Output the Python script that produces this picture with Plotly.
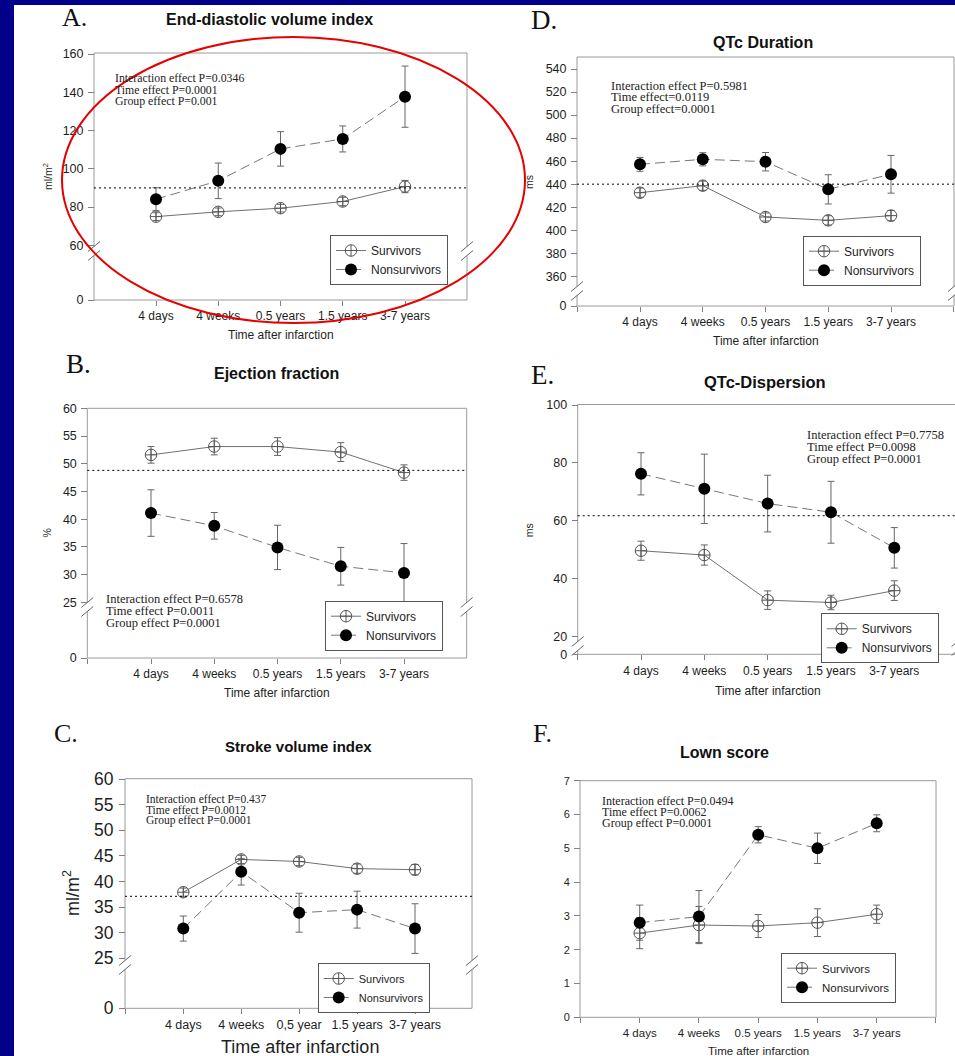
import plotly.graph_objects as go

W, H = 955, 1056
SANS = "Liberation Sans, Arial, Helvetica, sans-serif"
SERIF = "Liberation Serif, Times New Roman, serif"
INK = "#1e1e1e"
FRAME = "#9a9a9a"
SLIDE_BLUE = "#00008a"

# ---------------- data ----------------
TIMES = ["4 days", "4 weeks", "0.5 years", "1.5 years", "3-7 years"]
TIMES_SV = ["4 days", "4 weeks", "0,5 year", "1.5 years", "3-7 years"]
XPOS = [0, 1, 2, 3, 4]

# A. End-diastolic volume index (ml/m2)
edv_surv = [75.0, 77.5, 79.4, 82.9, 90.7]
edv_surv_err = [2.0, 2.0, 2.0, 2.2, 3.2]
edv_non = [84.1, 93.7, 110.4, 115.6, 137.7]
edv_non_err = [6.0, 9.3, 9.0, 6.8, 16.0]
edv_ref = 90.0
edv_ticks = [60, 80, 100, 120, 140, 160]
edv_stats = ["Interaction effect P=0.0346", "Time effect P=0.0001", "Group effect P=0.001"]

# B. Ejection fraction (%)
ef_surv = [51.6, 53.1, 53.1, 52.1, 48.4]
ef_surv_err = [1.5, 1.5, 1.6, 1.7, 1.4]
ef_non = [41.1, 38.8, 34.9, 31.5, 30.3]
ef_non_err = [4.2, 2.4, 4.0, 3.4, 5.3]
ef_ref = 48.8
ef_ticks = [25, 30, 35, 40, 45, 50, 55, 60]
ef_stats = ["Interaction effect P=0.6578", "Time effect P=0.0011", "Group effect P=0.0001"]

# C. Stroke volume index (ml/m2)
svi_surv = [37.9, 44.3, 43.9, 42.5, 42.3]
svi_surv_err = [0.8, 0.8, 0.8, 0.9, 1.0]
svi_non = [30.8, 41.9, 33.9, 34.5, 30.8]
svi_non_err = [2.45, 2.6, 3.8, 3.6, 4.85]
svi_ref = 37.1
svi_ticks = [25, 30, 35, 40, 45, 50, 55, 60]
svi_stats = ["Interaction effect P=0.437", "Time effect P=0.0012", "Group effect P=0.0001"]

# D. QTc duration (ms)
qtc_surv = [432.6, 438.7, 411.5, 408.6, 412.7]
qtc_surv_err = [4.0, 4.0, 3.5, 4.0, 4.5]
qtc_non = [457.2, 461.6, 459.5, 435.5, 448.6]
qtc_non_err = [6.0, 5.7, 8.0, 12.7, 16.4]
qtc_ref = 440.0
qtc_ticks = [360, 380, 400, 420, 440, 460, 480, 500, 520, 540]
qtc_stats = ["Interaction effect P=0.5981", "Time effect=0.0119", "Group effect=0.0001"]

# E. QTc dispersion (ms)
qtd_surv = [49.6, 48.1, 32.5, 31.7, 35.8]
qtd_surv_err = [3.3, 3.5, 3.2, 2.5, 3.4]
qtd_non = [76.2, 71.0, 65.9, 62.9, 50.6]
qtd_non_err = [7.3, 12.0, 9.8, 10.7, 7.0]
qtd_ref = 61.7
qtd_ticks = [20, 40, 60, 80, 100]
qtd_stats = ["Interaction effect P=0.7758", "Time effect P=0.0098", "Group effect P=0.0001"]

# F. Lown score
lown_surv = [2.49, 2.73, 2.70, 2.80, 3.05]
lown_surv_err = [0.46, 0.55, 0.34, 0.41, 0.27]
lown_non = [2.80, 2.98, 5.40, 5.00, 5.74]
lown_non_err = [0.52, 0.77, 0.24, 0.45, 0.25]
lown_ticks = [0, 1, 2, 3, 4, 5, 6, 7]
lown_stats = ["Interaction effect P=0.0494", "Time effect P=0.0062", "Group effect P=0.0001"]

# ---------------- page layout (pixels) ----------------
PANELS = [
    dict(letter="A.", title="End-diastolic volume index",
         surv=(edv_surv, edv_surv_err), non=(edv_non, edv_non_err), ref=edv_ref,
         yticks=edv_ticks, stats=edv_stats, xlabels=TIMES,
         frame=(94, 467, 53, 300), xcat=(156, 405), yanchor=((160, 54), (60, 245.3)), brk=250,
         letter_pos=(60, 17, 26), title_pos=(269, 20, 16),
         stats_pos=(113, (77.8, 89.6, 101.4), 11.8),
         ytitle=("ml/m<sup>2</sup>", 47, 177, 10.5), xtitle=(281, 335, 12),
         legend_pos=(330, 235, 12), ytick_size=12.5, xtick_size=12),
    dict(letter="B.", title="Ejection fraction",
         surv=(ef_surv, ef_surv_err), non=(ef_non, ef_non_err), ref=ef_ref,
         yticks=ef_ticks, stats=ef_stats, xlabels=TIMES,
         frame=(87.3, 466.7, 408.3, 658), xcat=(151, 404), yanchor=((60, 408.3), (25, 602.3)), brk=606,
         letter_pos=(64, 364, 27), title_pos=(276.7, 373.3, 16),
         stats_pos=(104.3, (599.3, 611, 623.3), 12.5),
         ytitle=("%", 46.7, 532.7, 10.5), xtitle=(277, 693.3, 12),
         legend_pos=(325, 600.7, 12), ytick_size=12.5, xtick_size=12),
    dict(letter="C.", title="Stroke volume index",
         surv=(svi_surv, svi_surv_err), non=(svi_non, svi_non_err), ref=svi_ref,
         yticks=svi_ticks, stats=svi_stats, xlabels=TIMES_SV,
         frame=(125, 472, 778.7, 1008.3), xcat=(183.3, 415), yanchor=((60, 779), (25, 958.3)), brk=964,
         letter_pos=(52, 733.3, 26), title_pos=(298.3, 746, 15),
         stats_pos=(144.3, (799, 809.7, 820.3), 11.5),
         ytitle=("ml/m<sup>2</sup>", 71.7, 893.3, 18), xtitle=(300, 1047.3, 18),
         legend_pos=(317.7, 963, 11), ytick_size=17.5, xtick_size=12.5),
    dict(letter="D.", title="QTc Duration",
         surv=(qtc_surv, qtc_surv_err), non=(qtc_non, qtc_non_err), ref=qtc_ref,
         yticks=qtc_ticks, stats=qtc_stats, xlabels=TIMES,
         frame=(577, 954, 57, 306), xcat=(640, 891), yanchor=((540, 69), (360, 276.3)), brk=290,
         letter_pos=(529, 20, 27), title_pos=(763, 42, 16),
         stats_pos=(609, (85.7, 97.3, 109.3), 12.5),
         ytitle=("ms", 529, 182, 10.5), xtitle=(765.7, 341, 12),
         legend_pos=(803, 235.7, 12), ytick_size=12.5, xtick_size=12),
    dict(letter="E.", title="QTc-Dispersion",
         surv=(qtd_surv, qtd_surv_err), non=(qtd_non, qtd_non_err), ref=qtd_ref,
         yticks=qtd_ticks, stats=qtd_stats, xlabels=TIMES,
         frame=(577.7, 957.6, 404.5, 654.3), xcat=(641, 894.3), yanchor=((100, 405), (20, 636.3)), brk=645,
         letter_pos=(529, 375, 27), title_pos=(765, 381.7, 16.5),
         stats_pos=(805, (435, 446.7, 459), 12.5),
         ytitle=("ms", 529.3, 530, 10.5), xtitle=(767.7, 691, 12),
         legend_pos=(820.7, 613.3, 12), ytick_size=12.5, xtick_size=12),
    dict(letter="F.", title="Lown score",
         surv=(lown_surv, lown_surv_err), non=(lown_non, lown_non_err), ref=None,
         yticks=lown_ticks, stats=lown_stats, xlabels=TIMES,
         frame=(580, 936, 780.7, 1017.3), xcat=(639.7, 876.7), yanchor=((7, 780.7), (0, 1017.3)), brk=None,
         letter_pos=(531, 733.3, 26), title_pos=(724.3, 752.3, 16),
         stats_pos=(600, (800.5, 811.9, 823.3), 12),
         ytitle=None, xtitle=(758.3, 1050.7, 11.5),
         legend_pos=(781, 952.7, 11.5), ytick_size=11, xtick_size=11.5),
]


def fx(p):
    return p / W


def fy(p):
    return 1 - p / H


def axis_ids(n, letter):
    return (letter if n == 1 else f"{letter}{n}",
            f"{letter}axis" if n == 1 else f"{letter}axis{n}")


fig = go.Figure()
layout = dict(width=W, height=H,
              margin=dict(l=0, r=0, t=0, b=0, pad=0, autoexpand=False),
              paper_bgcolor=SLIDE_BLUE, plot_bgcolor="rgba(0,0,0,0)",
              showlegend=True, hovermode=False)
shapes = [dict(type="rect", xref="paper", yref="paper", x0=fx(14), x1=1.0,
               y0=0.0, y1=fy(5), fillcolor="white", line=dict(width=0), layer="below")]
annotations = []


def text(x, y, s, size, family=SANS, xanchor="left", angle=0, color=INK):
    annotations.append(dict(x=fx(x), y=fy(y), xref="paper", yref="paper", text=s,
                            showarrow=False, xanchor=xanchor, yanchor="middle",
                            textangle=angle, font=dict(family=family, size=size, color=color)))


def break_marks(xc, yc):
    shapes.append(dict(type="rect", xref="paper", yref="paper", x0=fx(xc - 2.5), x1=fx(xc + 2.5),
                       y0=fy(yc + 4.5), y1=fy(yc - 4.5), fillcolor="white",
                       line=dict(width=0), layer="below"))
    for dy in (-4.5, 4.5):
        shapes.append(dict(type="line", xref="paper", yref="paper",
                           x0=fx(xc - 6), y0=fy(yc + dy + 5), x1=fx(xc + 6), y1=fy(yc + dy - 5),
                           line=dict(color="#666", width=1), layer="below"))


tick_common = dict(ticks="outside", tickcolor="#808080", tickwidth=1,
                   showline=False, showgrid=False, zeroline=False, fixedrange=True)

ycount = 0
for i, P in enumerate(PANELS):
    xid, xkey = axis_ids(i + 1, "x")
    L, R, T, B = P["frame"]
    p0, p4 = P["xcat"]
    unit = (p4 - p0) / 4.0
    Rvis = min(R, W)
    xrange_ = [(L - p0) / unit, (Rvis - p0) / unit]

    (v1, q1), (v2, q2) = P["yanchor"]
    k = (q2 - q1) / (v2 - v1)

    def val_at(q):
        return v1 + (q - q1) / k

    brk = P["brk"]
    main_bottom = brk - 2 if brk else B

    ycount += 1
    ymain, ymain_key = axis_ids(ycount, "y")

    # category axis pinned to the frame bottom; minor ticks mark the frame corners
    layout[xkey] = dict(domain=[fx(L), fx(Rvis)], range=xrange_,
                        anchor="free", position=fy(B),
                        tickmode="array", tickvals=XPOS, ticktext=P["xlabels"],
                        ticklen=5, tickangle=0,
                        minor=dict(tickmode="array", tickvals=[-1, 5], ticks="outside",
                                   ticklen=5, tickcolor="#808080", showgrid=False),
                        tickfont=dict(family=SANS, size=P["xtick_size"], color=INK),
                        **tick_common)
    layout[ymain_key] = dict(domain=[fy(main_bottom), fy(T)],
                             range=[val_at(main_bottom), val_at(T)],
                             anchor="free", position=fx(L),
                             tickmode="array", tickvals=P["yticks"], ticklen=6,
                             ticklabelstandoff=2,
                             tickfont=dict(family=SANS, size=P["ytick_size"], color=INK),
                             **tick_common)
    if brk:
        # short segment below the axis break carrying the zero tick
        ycount += 1
        ylow, ylow_key = axis_ids(ycount, "y")
        layout[ylow_key] = dict(domain=[fy(B), fy(brk + 4)], range=[0, 1],
                                anchor="free", position=fx(L),
                                tickmode="array", tickvals=[0], ticklen=6,
                                ticklabelstandoff=2,
                                tickfont=dict(family=SANS, size=P["ytick_size"], color=INK),
                                **tick_common)
        fig.add_trace(go.Scatter(x=[None], y=[None], xaxis=xid, yaxis=ylow,
                                 showlegend=False, hoverinfo="skip"))

    leg_id = "legend" if i == 0 else f"legend{i + 1}"
    lx, ly, lsize = P["legend_pos"]
    layout[leg_id] = dict(x=fx(lx), y=fy(ly), xanchor="left", yanchor="top",
                          bgcolor="white", bordercolor="#555", borderwidth=1,
                          font=dict(family=SANS, size=lsize, color=INK),
                          itemwidth=30, tracegroupgap=0)

    sv, sv_err = P["surv"]
    nv, nv_err = P["non"]
    fig.add_trace(go.Scatter(
        x=XPOS, y=sv, name="Survivors", mode="lines+markers",
        xaxis=xid, yaxis=ymain, legend=leg_id,
        line=dict(color="#707070", width=1),
        marker=dict(symbol="circle-cross-open", size=11.5, color="#555",
                    line=dict(width=1, color="#555")),
        error_y=dict(type="data", array=sv_err, visible=True, color="#666",
                     thickness=1, width=3.5)))
    fig.add_trace(go.Scatter(
        x=XPOS, y=nv, name="Nonsurvivors", mode="lines+markers",
        xaxis=xid, yaxis=ymain, legend=leg_id,
        line=dict(color="#777", width=1, dash="10px,5px"),
        marker=dict(symbol="circle", size=12, color="black"),
        error_y=dict(type="data", array=nv_err, visible=True, color="#666",
                     thickness=1, width=3.5)))

    # plot frame
    shapes.append(dict(type="rect", xref="paper", yref="paper", x0=fx(L), x1=fx(R),
                       y0=fy(B), y1=fy(T), line=dict(color=FRAME, width=1), layer="below"))
    if brk:
        break_marks(L, brk + 1)
        break_marks(R, brk + 1)

    # dotted reference line
    if P["ref"] is not None:
        shapes.append(dict(type="line", xref=f"{xid} domain", yref=ymain, x0=0, x1=1,
                           y0=P["ref"], y1=P["ref"],
                           line=dict(color="black", width=1, dash="2px,3px"), layer="above"))

    # texts
    lx0, ly0, lsz = P["letter_pos"]
    text(lx0, ly0, P["letter"], lsz, family=SERIF, color="#111")
    tx, ty, tsz = P["title_pos"]
    text(tx, ty, f"<b>{P['title']}</b>", tsz, xanchor="center", color="#111")
    sx, sys_, ssz = P["stats_pos"]
    for line_txt, yy in zip(P["stats"], sys_):
        text(sx, yy, line_txt, ssz, family=SERIF, color="#222")
    if P["ytitle"]:
        s, yx, yy, ysz = P["ytitle"]
        text(yx, yy, s, ysz, xanchor="center", angle=-90)
    xtx, xty, xtsz = P["xtitle"]
    text(xtx, xty, "Time after infarction", xtsz, xanchor="center")

# highlight ellipse around panel A
shapes.append(dict(type="circle", xref="paper", yref="paper",
                   x0=fx(62), x1=fx(525), y0=fy(323), y1=fy(37),
                   line=dict(color="#e60000", width=2), layer="above"))

layout["shapes"] = shapes
layout["annotations"] = annotations
fig.update_layout(**layout)
fig.write_html("out.html")
